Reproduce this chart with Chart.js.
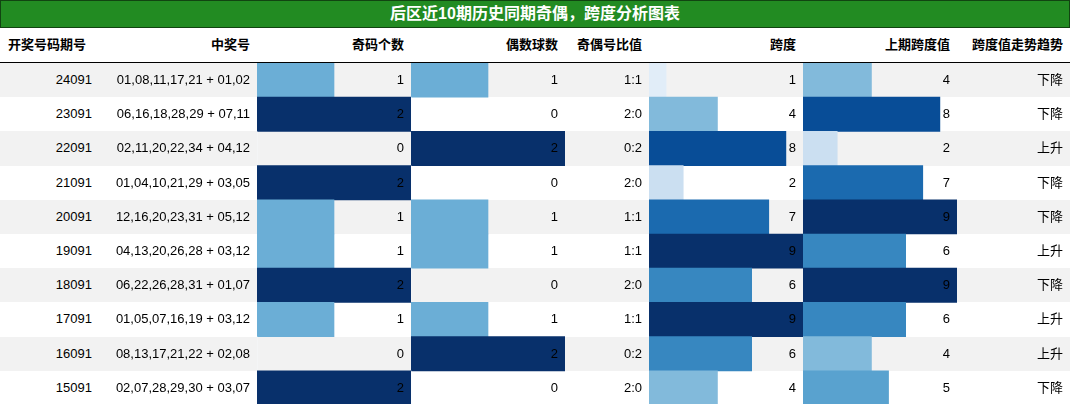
<!DOCTYPE html>
<html><head><meta charset="utf-8">
<script src="https://cdn.jsdelivr.net/npm/chart.js@4/dist/chart.umd.min.js"></script>
<style>
body{margin:0;width:1070px;height:404px;overflow:hidden;background:#fff;font-family:"Liberation Sans","Noto Sans CJK SC",sans-serif;font-size:13px;color:#000;position:relative}
.t{position:absolute;white-space:nowrap;line-height:34px}
.title{position:absolute;left:0;top:0;width:1068px;height:26px;background:#228b22;border:1px solid #114411;color:#fff;font-weight:bold;font-size:16px;text-align:center;line-height:26px}
.row{position:absolute;left:0;width:1070px;height:34.2px}
canvas{position:absolute}
</style></head><body>
<div class="title">后区近10期历史同期奇偶，跨度分析图表</div>
<div id="root"></div>
<script>
const periods=["24091","23091","22091","21091","20091","19091","18091","17091","16091","15091"];
const numbers=["01,08,11,17,21 + 01,02","06,16,18,28,29 + 07,11","02,11,20,22,34 + 04,12","01,04,10,21,29 + 03,05","12,16,20,23,31 + 05,12","04,13,20,26,28 + 03,12","06,22,26,28,31 + 01,07","01,05,07,16,19 + 03,12","08,13,17,21,22 + 02,08","02,07,28,29,30 + 03,07"];
const oddCount=[1,2,0,2,1,1,2,1,0,2];
const evenCount=[1,0,2,0,1,1,0,1,2,0];
const ratio=["1:1","2:0","0:2","2:0","1:1","1:1","2:0","1:1","0:2","2:0"];
const span=[1,4,8,2,7,9,6,9,6,4];
const prevSpan=[4,8,2,7,9,6,9,6,4,5];
const trend=["下降","下降","上升","下降","下降","上升","下降","上升","上升","下降"];
const headers=["开奖号码期号","中奖号","奇码个数","偶数球数","奇偶号比值","跨度","上期跨度值","跨度值走势趋势"];

const root=document.getElementById('root');
const top0=63,rh=34.2;
function txt(s,right,y,bold,left){const d=document.createElement('div');d.className='t';d.textContent=s;d.style.top=y+'px';
 if(left!==undefined)d.style.left=left+'px';else d.style.right=(1070-right)+'px';if(bold)d.style.fontWeight='bold';root.appendChild(d);}
// header
const hr=[92,250,404,558,642,796,950,1063];
headers.forEach((h,i)=>txt(h,hr[i],28,true,i===0?8:undefined));
const line=document.createElement('div');line.style.cssText='position:absolute;left:0;top:62px;width:1070px;height:1px;background:#000';root.appendChild(line);
for(let r=0;r<10;r++){const d=document.createElement('div');d.className='row';d.style.top=(top0+r*rh)+'px';d.style.background=r%2===0?'#f2f2f2':'#fff';root.appendChild(d);}
const stops=["#f7fbff","#deebf7","#c6dbef","#9ecae1","#6baed6","#4292c6","#2171b5","#08519c","#08306b"];
function hex(c){return [1,3,5].map(i=>parseInt(c.substr(i,2),16));}
function blues(t){t=Math.max(0,Math.min(1,t));const p=t*8,i=Math.min(7,Math.floor(p)),f=p-i;const a=hex(stops[i]),b=hex(stops[i+1]);
 return 'rgb('+a.map((v,k)=>Math.round(v+(b[k]-v)*f)).join(',')+')';}
function barChart(vals,left,max){const c=document.createElement('canvas');c.width=154;c.height=Math.round(rh*10);c.style.left=left+'px';c.style.top=top0+'px';c.style.width='154px';c.style.height=Math.round(rh*10)+'px';root.appendChild(c);
 new Chart(c,{type:'bar',data:{labels:periods,datasets:[{data:vals,backgroundColor:vals.map(v=>blues(v/max)),barPercentage:1,categoryPercentage:1,borderWidth:0}]},
 options:{indexAxis:'y',responsive:false,animation:false,devicePixelRatio:1,layout:{padding:0},plugins:{legend:{display:false},tooltip:{enabled:false}},
 scales:{x:{display:false,min:0,max:max},y:{display:false}}}});}
barChart(oddCount,257,2);barChart(evenCount,411,2);barChart(span,649,9);barChart(prevSpan,803,9);
for(let r=0;r<10;r++){const y=top0+r*rh;
 txt(periods[r],92,y);txt(numbers[r],250,y);txt(String(oddCount[r]),404,y);txt(String(evenCount[r]),558,y);
 txt(ratio[r],642,y);txt(String(span[r]),796,y);txt(String(prevSpan[r]),950,y);txt(trend[r],1063,y);}
</script></body></html>
